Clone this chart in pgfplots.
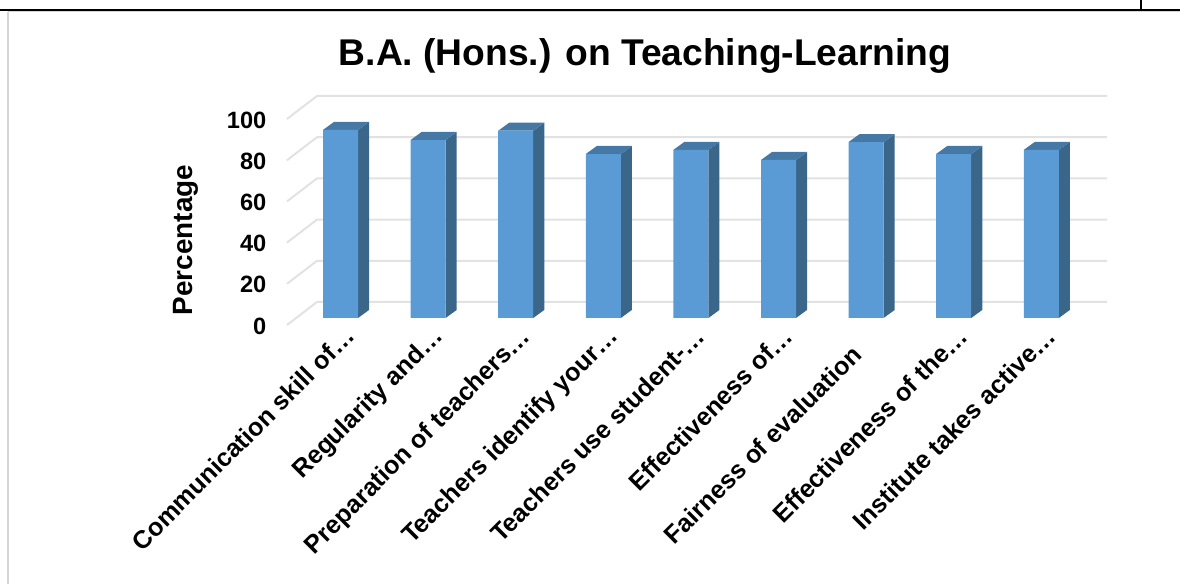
\documentclass[border=0pt]{standalone}
\usepackage{fontspec}
\setmainfont{Liberation Sans}
\usepackage{pgfplots}
\usepackage{pgfplotstable}
\pgfplotsset{compat=1.18}
\definecolor{barfront}{RGB}{91,155,213}
\definecolor{barside}{RGB}{58,102,138}
\definecolor{bartop}{RGB}{70,120,165}
\definecolor{gridgray}{RGB}{226,226,226}
\definecolor{framegray}{RGB}{214,214,214}

% bar tops
\pgfplotstableread{
pos val
1 91.3
2 86.4
3 90.9
4 79.6
5 81.6
6 76.7
7 85.4
8 79.6
9 81.6
}\bardata

\begin{document}
\begin{tikzpicture}
\path[use as bounding box] (0pt,0pt) rectangle (885pt,438pt);
% page rules around the pasted chart (1px = 0.75pt)
\draw[framegray,line width=1.5pt] (6pt,429pt) -- (6pt,0pt);
\draw[framegray,line width=0.75pt] (6pt,429pt) -- (885pt,429pt);
\draw[black,line width=1.2pt] (0pt,430.5pt) -- (885pt,430.5pt);
\draw[black,line width=1.2pt] (855.75pt,438pt) -- (855.75pt,430.5pt);
\begin{axis}[
  at={(215.25pt,194.25pt)}, anchor=south west,
  scale only axis, width=615pt, height=171.75pt,
  xmin=0.3893, xmax=9.75, ymin=-3.4, ymax=107.77,
  clip=false,
  axis line style={draw=none},
  major tick length=0pt,
  xtick={1,2,3,4,5,6,7,8,9},
  xticklabels={Communication skill of…,Regularity and…,Preparation of teachers…,Teachers identify your…,Teachers use student-…,Effectiveness of…,Fairness of evaluation\kern20pt,Effectiveness of the…,Institute takes active…},
  ytick={0,20,40,60,80,100},
  /pgf/number format/assume math mode=true,
  xticklabel style={rotate=45, anchor=north east, xshift=4.9pt, yshift=1.9pt, font=\fontsize{18.9}{20}\selectfont\bfseries},
  yticklabel style={yshift=-6pt, xshift=-12pt, font=\fontsize{17.7}{20}\selectfont\bfseries},
  title={B.A. (Hons.) on Teaching-Learning},
  title style={at={(axis description cs:0.4366,1.14)}, anchor=center, font=\fontsize{27.9}{30}\selectfont\bfseries},
  ylabel={Percentage},
  ylabel style={at={(axis description cs:-0.123,0.371)}, anchor=center, font=\fontsize{20.9}{22}\selectfont\bfseries},
]
  % gridlines: side wall then back wall
  \pgfplotsforeachungrouped \k in {0,20,...,100} {
    \pgfmathsetmacro{\kf}{\k-3.4}
    \pgfmathsetmacro{\kb}{\k+7.77}
    \addplot[gridgray, line width=1.5pt, forget plot] coordinates {(0.3893,\kf) (0.7317,\kb) (9.75,\kb)};
  }
  % depth faces of each bar
  \pgfplotsforeachungrouped \i in {0,...,8} {
    \pgfplotstablegetelem{\i}{pos}\of\bardata
    \let\px\pgfplotsretval
    \pgfplotstablegetelem{\i}{val}\of\bardata
    \let\pv\pgfplotsretval
    \pgfmathsetmacro{\xl}{\px-0.2}
    \pgfmathsetmacro{\xr}{\px+0.2}
    \pgfmathsetmacro{\xlb}{\px-0.074}
    \pgfmathsetmacro{\xrb}{\px+0.326}
    \pgfmathsetmacro{\vb}{\pv+3.9}
    \addplot[fill=barside, draw=none, forget plot] coordinates {(\xr,0) (\xrb,3.9) (\xrb,\vb) (\xr,\pv)} -- cycle;
    \addplot[fill=bartop, draw=none, forget plot] coordinates {(\xl,\pv) (\xlb,\vb) (\xrb,\vb) (\xr,\pv)} -- cycle;
  }
  % front faces
  \addplot[ybar, bar width=26.25pt, bar shift=0pt, fill=barfront, draw=none] table[x=pos,y=val] {\bardata};
\end{axis}
\end{tikzpicture}
\end{document}
